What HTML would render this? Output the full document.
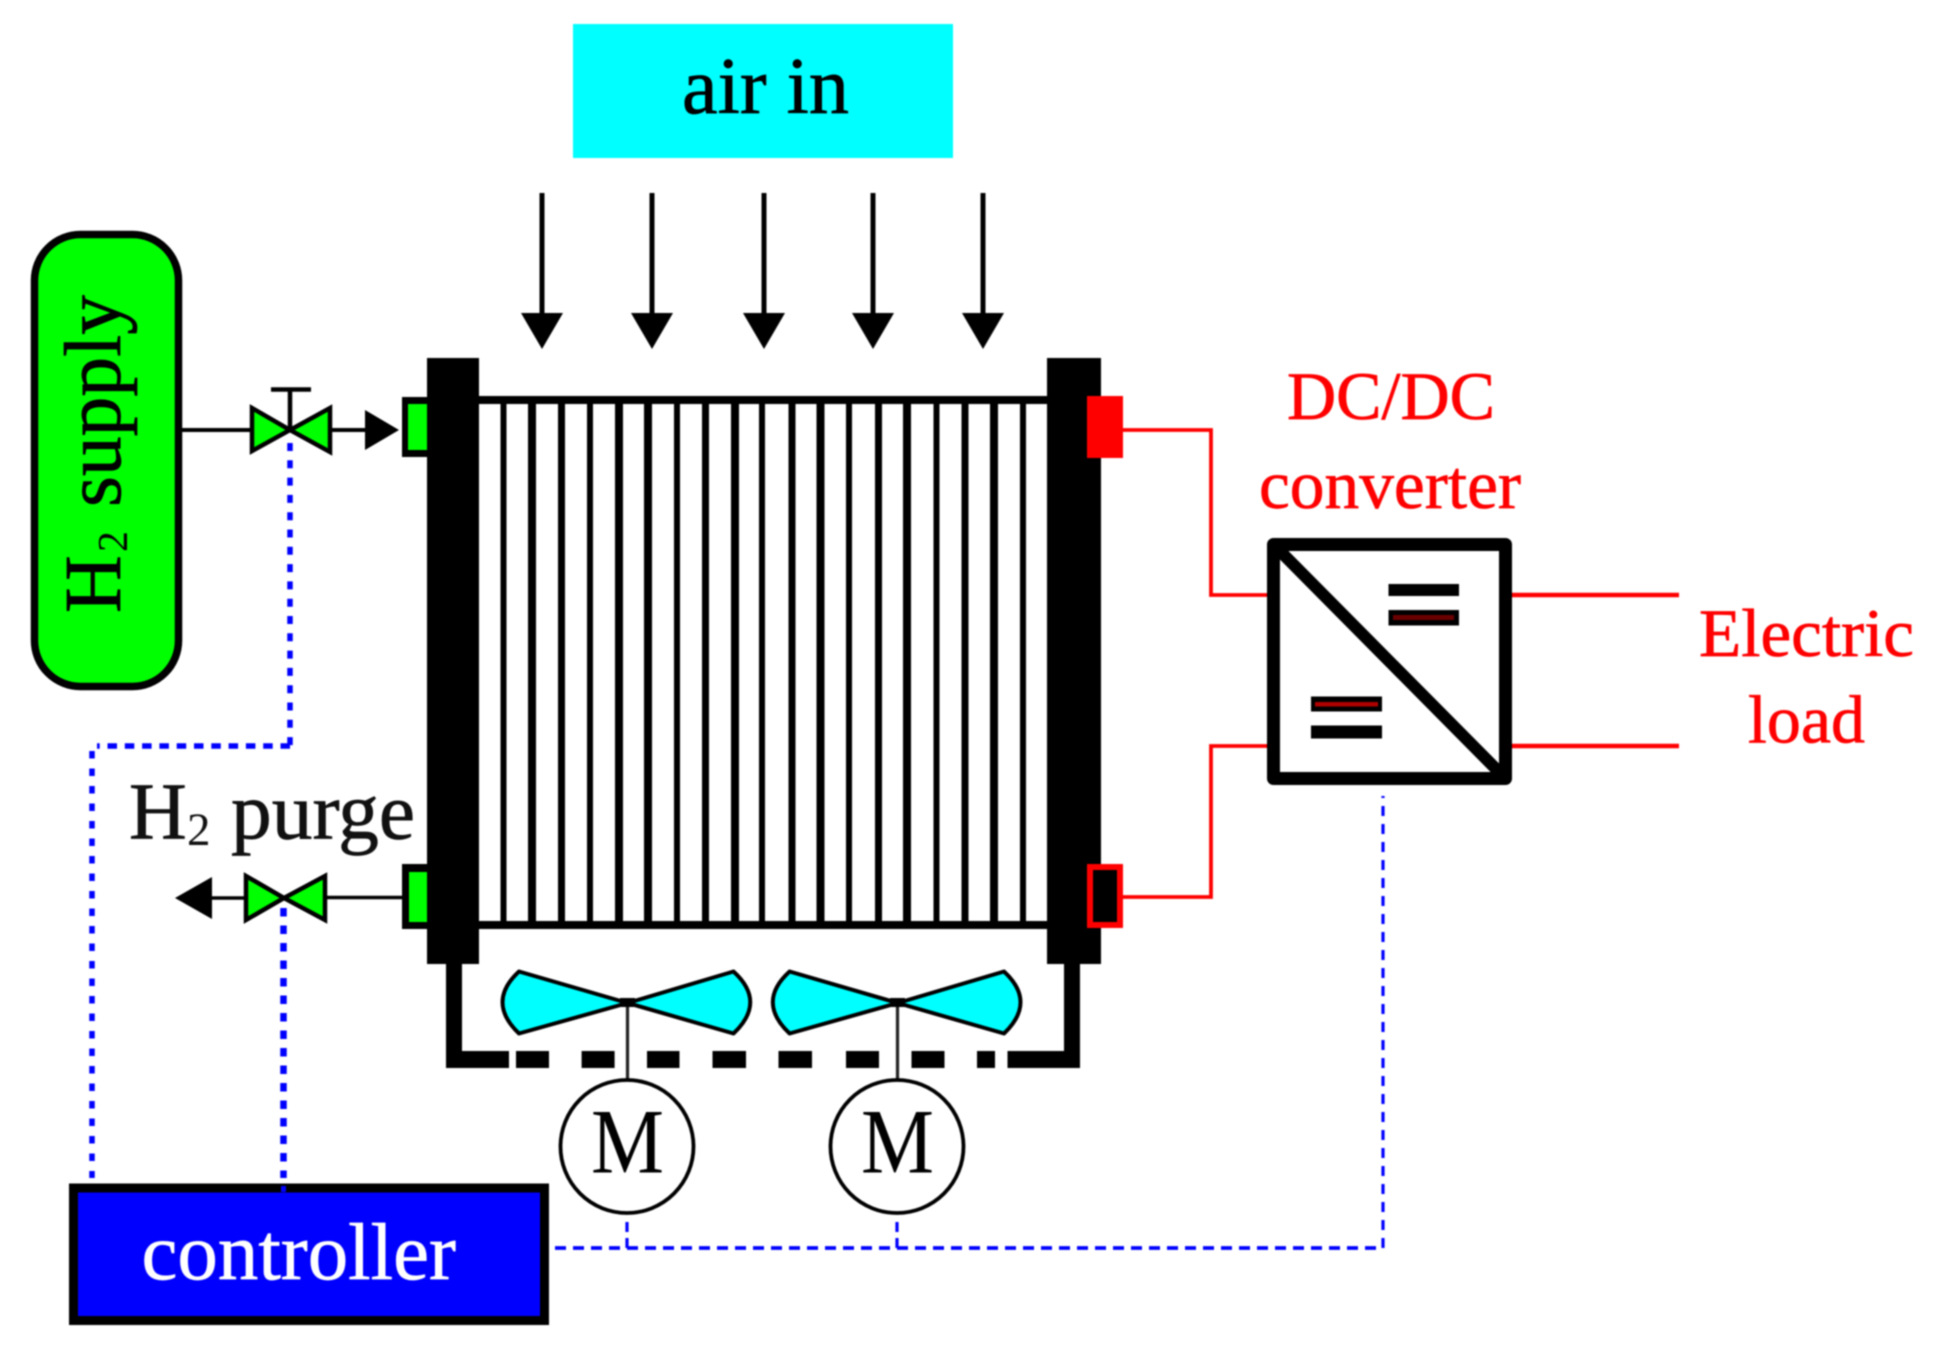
<!DOCTYPE html>
<html>
<head>
<meta charset="utf-8">
<style>
html,body{margin:0;padding:0;background:#fff;width:1940px;height:1358px;overflow:hidden}
svg{display:block;filter:blur(0.9px)}
text{font-family:"Liberation Serif",serif;stroke-width:0.7px}
</style>
</head>
<body>
<svg width="1940" height="1358" viewBox="0 0 1940 1358" xmlns="http://www.w3.org/2000/svg">
<rect width="1940" height="1358" fill="#fff"/>

<!-- air in -->
<rect x="573" y="24" width="380" height="134" fill="#00ffff"/>
<text x="682" y="113" font-size="80" fill="#000" stroke="#000" textLength="167" lengthAdjust="spacingAndGlyphs">air in</text>

<!-- air arrows -->
<g stroke="#000" stroke-width="5" fill="none">
<path d="M542 193V320M652 193V320M764 193V320M873 193V320M983 193V320"/>
</g>
<g fill="#000">
<path d="M521 313H563L542 349Z"/><path d="M631 313H673L652 349Z"/><path d="M743 313H785L764 349Z"/><path d="M852 313H894L873 349Z"/><path d="M962 313H1004L983 349Z"/>
</g>

<!-- stack -->
<rect x="470" y="396" width="590" height="8" fill="#000"/>
<rect x="470" y="921" width="590" height="8" fill="#000"/>
<g fill="#000">
<rect x="500.500" y="400" width="6" height="525"/>
<rect x="528" y="400" width="8" height="525"/>
<rect x="558" y="400" width="7" height="525"/>
<rect x="587" y="400" width="6" height="525"/>
<rect x="615" y="400" width="8" height="525"/>
<rect x="644" y="400" width="8" height="525"/>
<rect x="674" y="400" width="6" height="525"/>
<rect x="702" y="400" width="7" height="525"/>
<rect x="731" y="400" width="8" height="525"/>
<rect x="759" y="400" width="6" height="525"/>
<rect x="788.500" y="400" width="7" height="525"/>
<rect x="816.500" y="400" width="8" height="525"/>
<rect x="846" y="400" width="6" height="525"/>
<rect x="875" y="400" width="7" height="525"/>
<rect x="903" y="400" width="8" height="525"/>
<rect x="933.500" y="400" width="6" height="525"/>
<rect x="961.500" y="400" width="7" height="525"/>
<rect x="990" y="400" width="8" height="525"/>
<rect x="1020" y="400" width="6" height="525"/>
</g>
<rect x="427" y="358" width="52" height="606" fill="#000"/>
<rect x="1047" y="358" width="54" height="606" fill="#000"/>

<!-- H2 tank -->
<rect x="34.500" y="234.500" width="144" height="452" rx="46" ry="46" fill="#00ff00" stroke="#000" stroke-width="7.500"/>
<text transform="translate(120 613) rotate(-90)" font-size="80" fill="#000" stroke="#000">H</text>
<text transform="translate(127 552) rotate(-90)" font-size="42" fill="#000">2</text>
<text transform="translate(120 507) rotate(-90)" font-size="80" fill="#000" stroke="#000" textLength="212" lengthAdjust="spacingAndGlyphs">supply</text>

<!-- inlet valve -->
<path d="M182 430H252M330 430H366" stroke="#000" stroke-width="4" fill="none"/>
<path d="M290 430V390M271 389.500H311" stroke="#000" stroke-width="4.500" fill="none"/>
<path d="M252 408V451L290 430Z" fill="#00ff00" stroke="#000" stroke-width="4.500"/>
<path d="M330 408V452L290 430Z" fill="#00ff00" stroke="#000" stroke-width="4.500"/>
<path d="M365 410V450L399 430Z" fill="#000"/>
<rect x="402" y="397" width="26" height="60" fill="#000"/>
<rect x="408" y="404" width="19" height="46" fill="#00ff00"/>

<!-- purge valve -->
<path d="M212 898H246M325 897.500H404" stroke="#000" stroke-width="3.500" fill="none"/>
<path d="M246 876V920L284 898Z" fill="#00ff00" stroke="#000" stroke-width="4.500"/>
<path d="M325 876V920L284 898Z" fill="#00ff00" stroke="#000" stroke-width="4.500"/>
<path d="M212 877V919L175 898Z" fill="#000"/>
<rect x="402" y="864" width="26" height="65" fill="#000"/>
<rect x="409" y="872" width="18" height="50" fill="#00ff00"/>

<text x="129" y="838.500" font-size="80" fill="#111" stroke="#111">H</text>
<text x="187" y="845" font-size="47" fill="#111">2</text>
<text x="231" y="838.500" font-size="80" fill="#111" stroke="#111" textLength="184" lengthAdjust="spacingAndGlyphs">purge</text>

<!-- blue signals -->
<g fill="none" stroke="#0000ff">
<path d="M290 443V746" stroke-width="5.500" stroke-dasharray="8 9.300"/>
<path d="M290 746H97" stroke-width="5.500" stroke-dasharray="9.500 7.800"/>
<path d="M92 751V1178" stroke-width="5.500" stroke-dasharray="7.500 10"/>
<path d="M283.500 908V1178" stroke-width="6.500" stroke-dasharray="8.500 9"/>
<path d="M555 1248H1383" stroke-width="3.800" stroke-dasharray="11 7"/>
<path d="M1383 1248V796" stroke-width="3.200" stroke-dasharray="10 8"/>
<path d="M627 1222V1248M897 1222V1248" stroke-width="3.200" stroke-dasharray="10 6"/>
</g>

<!-- controller -->
<rect x="73.500" y="1188" width="471" height="132.500" fill="#0000ff" stroke="#000" stroke-width="9"/>
<text x="141.500" y="1279" font-size="80" fill="#fff" stroke="#fff" textLength="314.500" lengthAdjust="spacingAndGlyphs">controller</text>
<rect x="281" y="1186" width="5" height="6" fill="#0000ff"/>

<!-- duct -->
<g fill="#000">
<path d="M446 960H462V1051H509V1068H446Z"/>
<rect x="516" y="1051" width="33" height="17"/>
<rect x="581.600" y="1051" width="33" height="17"/>
<rect x="647" y="1051" width="32.500" height="17"/>
<rect x="712.500" y="1051" width="33.500" height="17"/>
<rect x="778.500" y="1051" width="33.500" height="17"/>
<rect x="846" y="1051" width="33" height="17"/>
<rect x="911.500" y="1051" width="33" height="17"/>
<rect x="977" y="1051" width="18" height="17"/>
<path d="M1080 960H1064V1051H1007.500V1068H1080Z"/>
</g>

<!-- fans -->
<g stroke="#000" stroke-width="4" stroke-linejoin="round">
<path d="M627.600 1003L519 971.500Q486 1002 519 1033.500Z" fill="#00ffff"/>
<path d="M627.600 1003L733.500 971.500Q767 1002 733.500 1033.500Z" fill="#00ffff"/>
<path d="M897.700 1003L789.600 971.500Q756 1002 789.600 1033.500Z" fill="#00ffff"/>
<path d="M897.700 1003L1004 971.500Q1037 1002 1004 1033.500Z" fill="#00ffff"/>
</g>
<path d="M627.500 1002V1081M897.500 1002V1081" stroke="#222" stroke-width="3.200"/>
<rect x="620" y="998" width="15" height="9" fill="#000"/>
<rect x="890" y="998" width="15" height="9" fill="#000"/>

<!-- motors -->
<circle cx="627" cy="1146.500" r="66.500" fill="#fff" stroke="#000" stroke-width="3.800"/>
<circle cx="897" cy="1146.500" r="66.500" fill="#fff" stroke="#000" stroke-width="3.800"/>
<text x="591" y="1172.500" font-size="92" fill="#000" textLength="73" lengthAdjust="spacingAndGlyphs">M</text>
<text x="861" y="1172.500" font-size="92" fill="#000" textLength="73" lengthAdjust="spacingAndGlyphs">M</text>

<!-- electrical -->
<g fill="none" stroke="#ff0000" stroke-width="3.800">
<path d="M1120 430H1211V595H1268"/>
<path d="M1120 897H1211V746H1268"/>
<path d="M1508 595H1679M1508 746H1679" stroke-width="4.500"/>
</g>
<rect x="1087" y="396" width="36" height="62" fill="#ff0000"/>
<rect x="1090" y="867" width="30" height="58" fill="#000" stroke="#ff0000" stroke-width="6"/>

<!-- converter -->
<rect x="1273.500" y="544.500" width="232" height="234" fill="#fff" stroke="#000" stroke-width="13" stroke-linejoin="round"/>
<path d="M1276 547L1506 779" stroke="#000" stroke-width="12"/>
<rect x="1388.500" y="584" width="70.500" height="12" fill="#000"/>
<rect x="1388.500" y="610" width="70.500" height="15.500" fill="#000"/>
<rect x="1393" y="615" width="61" height="5" fill="#6b0000"/>
<rect x="1311" y="696.500" width="71" height="15" fill="#000"/>
<rect x="1315" y="702" width="63" height="4.500" fill="#b00000"/>
<rect x="1311" y="725.500" width="71" height="13" fill="#000"/>

<text x="1287" y="419" font-size="68" fill="#ff0000" stroke="#ff0000" textLength="208" lengthAdjust="spacingAndGlyphs">DC/DC</text>
<text x="1259" y="508" font-size="69" fill="#ff0000" stroke="#ff0000" textLength="262" lengthAdjust="spacingAndGlyphs">converter</text>
<text x="1699" y="656" font-size="68" fill="#ff0000" stroke="#ff0000" textLength="215" lengthAdjust="spacingAndGlyphs">Electric</text>
<text x="1748" y="742.500" font-size="68" fill="#ff0000" stroke="#ff0000" textLength="117" lengthAdjust="spacingAndGlyphs">load</text>
</svg>
</body>
</html>
